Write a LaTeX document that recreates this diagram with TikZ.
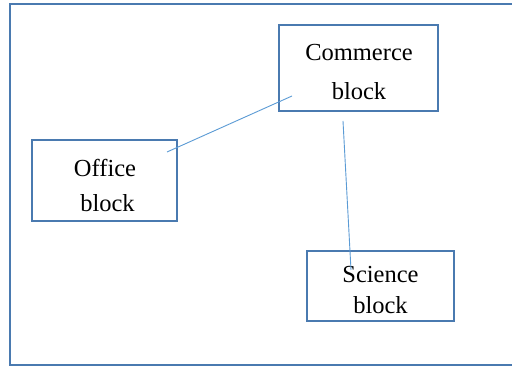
\documentclass[tikz,border=0pt]{standalone}
\usepackage{fontspec}
\setmainfont{Liberation Serif}
\definecolor{frameblue}{HTML}{4A7AB0}
\definecolor{lineblue}{HTML}{5B9BD5}
\tikzset{
  box/.style={draw=frameblue, line width=1.8pt, rectangle, inner sep=0pt},
  lbl/.style={align=center, text=black, inner sep=0pt},
  link/.style={draw=lineblue, line width=0.9pt}
}
\begin{document}
\begin{tikzpicture}[x=1pt,y=-1pt]
\useasboundingbox (0,0) rectangle (512,366);
\fill[white] (0,0) rectangle (512,366);
\draw[frameblue, line width=2pt] (513,4.5) -- (9.5,4.5) -- (9.5,364.8) -- (513,364.8);
% boxes
\node[box, minimum width=159pt, minimum height=86pt] (com) at (358.5,68) {};
\node[box, minimum width=145pt, minimum height=81pt] (off) at (104.5,180.5) {};
\node[box, minimum width=147pt, minimum height=70pt] (sci) at (380.5,286) {};
% labels
\node[lbl, font=\fontsize{24.5}{39}\selectfont] (comt) at (359,72.5) {Commerce\\block};
\node[lbl, font=\fontsize{24.5}{35}\selectfont] (offt) at (105,185.5) {Office\\\hspace*{5pt}block};
\node[lbl, font=\fontsize{24.5}{31}\selectfont] (scit) at (380.5,290.5) {Science\\block};
% connectors
\coordinate (c1) at (292,96);
\coordinate (o1) at (167,152);
\coordinate (c2) at (343,121);
\coordinate (s1) at (351,270);
\draw[link] (c1) -- (o1);
\draw[link] (c2) -- (s1);
\end{tikzpicture}
\end{document}
